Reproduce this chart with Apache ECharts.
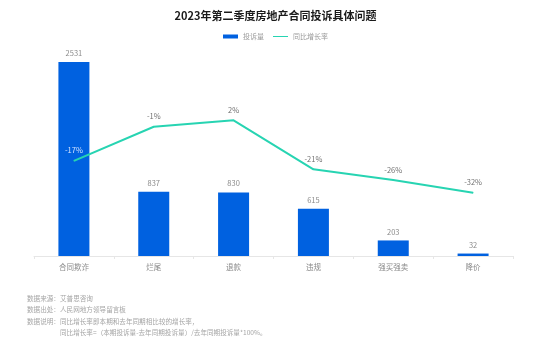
<!DOCTYPE html>
<html>
<head>
<meta charset="utf-8">
<style>
html, body { margin: 0; padding: 0; background: #fff; }
#chart { width: 551px; height: 353px; }
</style>
<script src="https://cdn.jsdelivr.net/npm/echarts@6/dist/echarts.min.js"></script>
</head>
<body>
<div id="chart"></div>
<script>
// data
var categories = ['合同欺诈', '烂尾', '退款', '违规', '强买强卖', '降价'];
var complaints = [2531, 837, 830, 615, 203, 32];
var yoyGrowth = [-0.17, -0.01, 0.02, -0.21, -0.26, -0.32];
var notes = [
    ['数据来源：', '艾普思咨询'],
    ['数据出处：', '人民网地方领导留言板'],
    ['数据说明：', '同比增长率即本期和去年同期相比较的增长率，'],
    ['', '同比增长率=（本期投诉量-去年同期投诉量）/去年同期投诉量*100%。']
];

var chart = echarts.init(document.getElementById('chart'));
var font = '"Noto Sans CJK SC", "Noto Sans", sans-serif';

var graphics = [];
for (var i = 0; i < notes.length; i++) {
    graphics.push({
        type: 'text', left: 27, top: 295 + i * 11.5,
        style: { text: notes[i][0], fill: '#a5a5a5', fontSize: 6.6, fontFamily: font }
    });
    graphics.push({
        type: 'text', left: 60, top: 295 + i * 11.5,
        style: { text: notes[i][1], fill: '#a5a5a5', fontSize: 6.6, fontFamily: font }
    });
}

// thin line icon for legend, corners keep the box at 15x4
var lineIcon = 'path://M0,0h0.01v0.01h-0.01z M0,1.4h15v1.2h-15z M14.99,3.99h0.01v0.01h-0.01z';

function pct(v) { return Math.round(v * 100) + '%'; }

var option = {
    textStyle: { fontFamily: font },
    title: {
        text: '2023年第二季度房地产合同投诉具体问题',
        left: 'center',
        top: 5,
        textStyle: { fontSize: 11, fontWeight: 'bold', color: '#1a1a1a', fontFamily: font }
    },
    legend: {
        top: 28,
        left: 'center',
        itemWidth: 15,
        itemHeight: 4,
        itemGap: 9,
        textStyle: { fontSize: 7, color: '#9a9a9a', fontFamily: font },
        data: [
            { name: '投诉量', icon: 'rect' },
            { name: '同比增长率', icon: lineIcon }
        ]
    },
    grid: { left: 34, right: 38, top: 62, bottom: 97 },
    xAxis: {
        type: 'category',
        data: categories,
        axisLine: { lineStyle: { color: '#e6e6e6' } },
        axisTick: { show: true, length: 3, lineStyle: { color: '#e6e6e6' } },
        axisLabel: { color: '#8a8a8a', fontSize: 7.5, margin: 7 }
    },
    yAxis: [
        { type: 'value', min: 0, max: 2531, show: false, splitLine: { show: false } },
        { type: 'value', min: -0.617, max: 0.294, show: false, splitLine: { show: false } }
    ],
    series: [
        {
            name: '投诉量',
            type: 'bar',
            data: complaints,
            barWidth: 31,
            itemStyle: { color: '#0061e0' },
            label: { show: true, position: 'top', color: '#8a8a8a', fontSize: 7.5, distance: 5 }
        },
        {
            name: '同比增长率',
            type: 'line',
            yAxisIndex: 1,
            data: yoyGrowth.map(function (v, idx) {
                // first label sits on the blue bar, drawn light
                return idx === 0
                    ? { value: v, label: { show: true, color: '#d6e5ff', formatter: pct(v) } }
                    : v;
            }),
            symbol: 'circle',
            symbolSize: 1,
            showSymbol: true,
            z: 3,
            lineStyle: { color: '#27d4b2', width: 2 },
            itemStyle: { color: '#27d4b2' },
            label: {
                show: true,
                position: 'top',
                distance: 6,
                fontSize: 7.5,
                color: '#707070',
                formatter: function (p) { return pct(p.value); }
            }
        }
    ],
    graphic: graphics
};
chart.setOption(option);
</script>
</body>
</html>
